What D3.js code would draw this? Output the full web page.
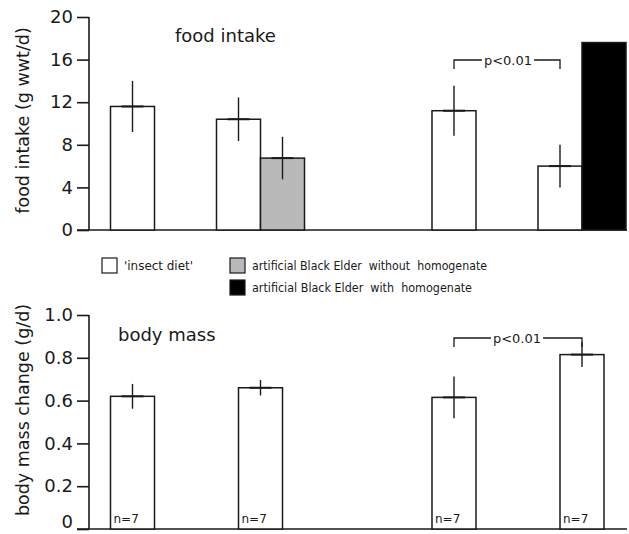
<!DOCTYPE html>
<html>
<head>
<meta charset="utf-8">
<script src="https://cdn.jsdelivr.net/npm/d3@7"></script>
<style>
  body { margin: 0; background: #fff; }
  text { font-family: "DejaVu Sans", sans-serif; fill: #1a1a1a; }
</style>
</head>
<body>
<div id="chart"></div>
<script>
// groups of birds, two trials, each with a control and a test group
const trials = ["trial 1", "trial 1", "trial 2", "trial 2"]
const roles = ["control", "test", "control", "test"]

// food intake (g wwt/d): insect diet and artificial Black Elder
const foodInsect = [11.6, 10.4, 11.2, 6.0]
const foodInsectErr = [2.4, 2.05, 2.35, 2.0]
const foodElder = [null, 6.75, null, 17.6]
const foodElderErr = [null, 2.0, null, 0]
const elderKind = [null, "without", null, "with"]

// body mass change (g/d)
const massChange = [0.62, 0.66, 0.615, 0.815]
const massErr = [0.058, 0.036, 0.098, 0.058]
const sampleSize = ["n=7", "n=7", "n=7", "n=7"]

const foodTicks = [0, 4, 8, 12, 16, 20]
const massTicks = [0, 0.2, 0.4, 0.6, 0.8, 1.0]

const legendItems = [
    { key: "insect", label: "'insect diet'" },
    { key: "without", label: "artificial Black Elder  without  homogenate" },
    { key: "with", label: "artificial Black Elder  with  homogenate" }
]
const fills = { insect: "#ffffff", without: "#b9b9b9", with: "#000000" }

let svg_width = 629
let svg_height = 534
const ink = "#1a1a1a"

const svg = d3.select("#chart").append("svg")
    .attr("width", svg_width)
    .attr("height", svg_height)

// x layout: trials as outer bands, control/test as inner bands
const xTrial = d3.scaleBand()
    .domain(["trial 1", "trial 2"])
    .range([68.5, 646])
    .paddingInner(0.2037)
const xRole = d3.scaleBand()
    .domain(["control", "test"])
    .range([0, xTrial.bandwidth()])
const barW = 44
const centerOf = i => xTrial(trials[i]) + xRole(roles[i]) + xRole.bandwidth() / 2

const yFood = d3.scaleLinear().domain([0, 20]).range([230, 17])
const yMass = d3.scaleLinear().domain([0, 1]).range([529, 315])

function drawAxis(y, ticks, fmt, baseY) {
    const g = svg.append("g").attr("transform", "translate(89,0)")
    g.call(d3.axisLeft(y).tickValues(ticks).tickFormat(fmt).tickSize(12).tickPadding(4))
    g.select(".domain").remove()
    g.append("line")
        .attr("x1", 0).attr("x2", 0)
        .attr("y1", y.range()[1]).attr("y2", y.range()[0])
        .attr("stroke", ink).attr("stroke-width", 1.6)
    g.selectAll(".tick line").attr("stroke", ink).attr("stroke-width", 1.6)
    g.selectAll(".tick text")
        .style("font-family", "DejaVu Sans")
        .style("font-size", "18px")
        .attr("fill", ink)
    // baseline
    svg.append("line")
        .attr("x1", 77).attr("x2", 627)
        .attr("y1", baseY).attr("y2", baseY)
        .attr("stroke", ink).attr("stroke-width", 1.6)
    return g
}

function errorBar(g, cx, y, v, e) {
    g.append("line")
        .attr("x1", cx).attr("x2", cx)
        .attr("y1", y(v + e)).attr("y2", y(v - e))
        .attr("stroke", ink).attr("stroke-width", 1.4)
    g.append("line")
        .attr("x1", cx - 11).attr("x2", cx + 11)
        .attr("y1", y(v)).attr("y2", y(v))
        .attr("stroke", ink).attr("stroke-width", 2)
}

function bracket(x1, x2, yLine, label, textX) {
    const g = svg.append("g")
    const t = g.append("text")
        .attr("x", textX).attr("y", yLine + 4.5)
        .attr("text-anchor", "middle")
        .style("font-size", "13px")
        .text(label)
    const w = t.node().getComputedTextLength()
    g.append("path")
        .attr("d", `M${x1},${yLine + 9}V${yLine}H${textX - w / 2 - 2}`)
        .attr("fill", "none").attr("stroke", ink).attr("stroke-width", 1.3)
    g.append("path")
        .attr("d", `M${textX + w / 2 + 2},${yLine}H${x2}V${yLine + 9}`)
        .attr("fill", "none").attr("stroke", ink).attr("stroke-width", 1.3)
}

// ---------- food intake panel ----------
drawAxis(yFood, foodTicks, d3.format("d"), 230)

const foodBars = svg.append("g")
foodInsect.forEach((v, i) => {
    const cx = centerOf(i)
    const paired = foodElder[i] != null
    const x0 = paired ? cx - barW : cx - barW / 2
    foodBars.append("rect")
        .attr("x", x0).attr("y", yFood(v))
        .attr("width", barW).attr("height", yFood(0) - yFood(v))
        .attr("fill", fills.insect).attr("stroke", ink).attr("stroke-width", 1.5)
    if (paired) {
        const ve = foodElder[i]
        foodBars.append("rect")
            .attr("x", cx).attr("y", yFood(ve))
            .attr("width", barW).attr("height", yFood(0) - yFood(ve))
            .attr("fill", fills[elderKind[i]]).attr("stroke", ink).attr("stroke-width", 1.5)
    }
})
foodInsect.forEach((v, i) => {
    const cx = centerOf(i)
    const paired = foodElder[i] != null
    errorBar(foodBars, paired ? cx - barW / 2 : cx, yFood, v, foodInsectErr[i])
    if (paired && foodElderErr[i] > 0) {
        errorBar(foodBars, cx + barW / 2, yFood, foodElder[i], foodElderErr[i])
    }
})

svg.append("text")
    .attr("x", 175).attr("y", 42)
    .style("font-size", "18px")
    .text("food intake")

svg.append("text")
    .attr("transform", "translate(29," + (yFood(10) - 3) + ") rotate(-90)")
    .attr("text-anchor", "middle")
    .style("font-size", "17.5px")
    .text("food intake (g wwt/d)")

bracket(centerOf(2), centerOf(3) - barW / 2, 60, "p<0.01", 508)

// ---------- legend ----------
const legend = svg.append("g")
const legendPos = [[102, 258], [230, 258], [230, 280]]
const legendLen = [69, 235, 220]
legendItems.forEach((d, i) => {
    const [lx, ly] = legendPos[i]
    legend.append("rect")
        .attr("x", lx).attr("y", ly)
        .attr("width", 15).attr("height", 15)
        .attr("fill", fills[d.key]).attr("stroke", ink).attr("stroke-width", 1.2)
    legend.append("text")
        .attr("x", lx + 22).attr("y", ly + 12)
        .attr("textLength", legendLen[i])
        .attr("lengthAdjust", "spacingAndGlyphs")
        .style("white-space", "pre")
        .style("font-size", "13px")
        .text(d.label)
})

// ---------- body mass panel ----------
const massAxis = drawAxis(yMass, massTicks, d => d === 0 ? "0" : d3.format(".1f")(d), 529)
// keep the zero label inside the picture
massAxis.selectAll(".tick text").filter(d => d === 0).attr("dy", "-0.08em")

const massBars = svg.append("g")
massChange.forEach((v, i) => {
    const cx = centerOf(i)
    massBars.append("rect")
        .attr("x", cx - barW / 2).attr("y", yMass(v))
        .attr("width", barW).attr("height", yMass(0) - yMass(v))
        .attr("fill", "#fff").attr("stroke", ink).attr("stroke-width", 1.5)
    massBars.append("text")
        .attr("x", cx - barW / 2 + 3).attr("y", 523)
        .style("font-size", "12px")
        .text(sampleSize[i])
})
massChange.forEach((v, i) => errorBar(massBars, centerOf(i), yMass, v, massErr[i]))

svg.append("text")
    .attr("x", 118).attr("y", 341)
    .style("font-size", "18px")
    .text("body mass")

svg.append("text")
    .attr("transform", "translate(29," + (yMass(0.5) - 12) + ") rotate(-90)")
    .attr("text-anchor", "middle")
    .style("font-size", "17.5px")
    .text("body mass change (g/d)")

bracket(centerOf(2), centerOf(3), 338, "p<0.01", 517)
</script>
</body>
</html>
